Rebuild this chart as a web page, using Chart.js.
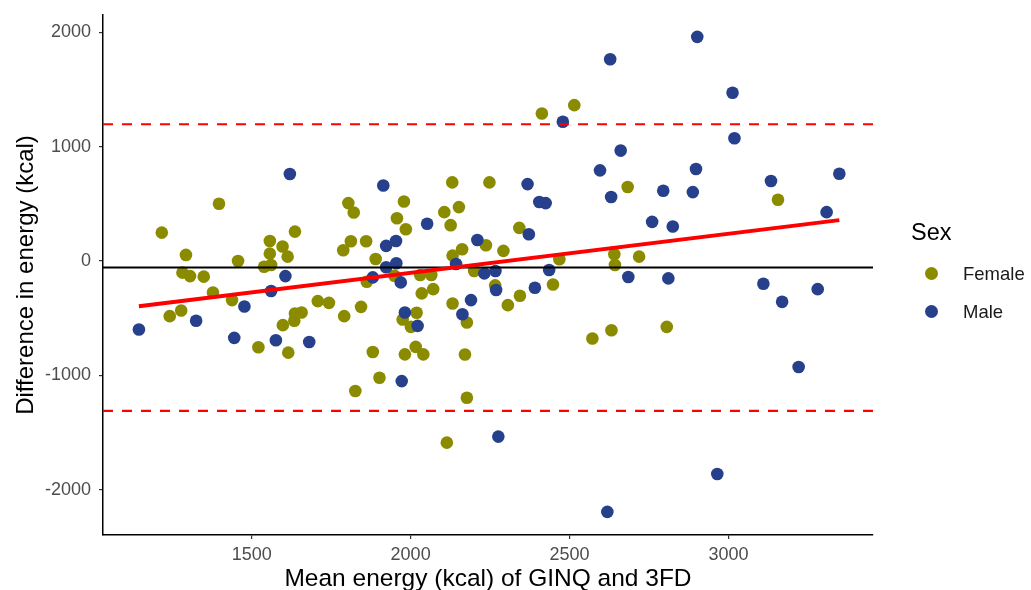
<!DOCTYPE html>
<html lang="en">
<head>
    <meta charset="utf-8">
    <title>Bland-Altman energy</title>
    <script src="https://cdn.jsdelivr.net/npm/chart.js@4.4.0/dist/chart.umd.min.js"></script>
    <style>
        body { margin: 0; background: #fff; font-family: "Liberation Sans", Arial, sans-serif; }
        #wrap { position: relative; width: 1031px; height: 590px; overflow: hidden; }
        #legend { position: absolute; left: 911px; top: 216px; color: #000; }
        #legend .title { font-size: 23.5px; line-height: 32px; }
        #legend .item { position: relative; height: 38px; font-size: 18.5px; color: #1a1a1a; }
        #legend .dot { position: absolute; left: 14px; width: 13px; height: 13px; border-radius: 50%; }
        #legend .lab { position: absolute; left: 52px; }
    </style>
</head>
<body>
<div id="wrap">
    <canvas id="myChart" width="1031" height="590"></canvas>
    <div id="legend">
        <div class="title">Sex</div>
        <div class="item" style="top:7px"><span class="dot" style="top:12px;background:#8B8B00"></span><span class="lab" style="top:8px">Female</span></div>
        <div class="item" style="top:7px"><span class="dot" style="top:12px;background:#27408B"></span><span class="lab" style="top:8px">Male</span></div>
    </div>
</div>
<script>
    // values
    const femaleX = [1397, 1217, 1636, 1293, 1457, 1557, 1557, 1597, 1613, 1539, 1561, 1282, 1306, 1349, 1378, 1438, 1636, 1278, 1242, 1634, 1598, 1521, 1615,
        1804, 1821, 1979, 1957, 1985, 1812, 1788, 1860, 1890, 1862, 1949, 2030, 2065, 2035, 2071, 1708, 1743, 1844, 1791, 1657, 2019, 1975, 2001, 1881, 1982, 2016, 2040, 1902, 1826,
        2131, 2248, 2106, 2152, 2126, 2342, 2237, 2292, 2162, 2132, 2468, 2200, 2266, 2448, 2344, 2306, 2132, 2177, 2171, 2177,
        2515, 2683, 2641, 2719, 2643, 2572, 2632, 2806, 3156, 2114, 2413];
    const femaleY = [500, 248, 257, 53, 0, 175, 64, 126, 38, -50, -35, -102, -132, -137, -275, -342, -459, -433, -482, -523, -561, -754, -801,
        506, 424, 520, 374, 278, 173, 94, 173, 18, -181, -129, -123, -123, -283, -246, -351, -366, -401, -482, -450, -453, -512, -576, -795, -816, -751, -816, -1021, -1137,
        687, 687, 427, 471, 313, 289, 137, 88, 103, 47, 15, -88, -213, -205, -304, -386, -371, -538, -818, -1196,
        1362, 646, 59, 38, -35, -678, -605, -576, 535, -1588, 1289];
    const maleX = [1620, 1606, 1561, 1477, 1325, 1145, 1445, 1576,
        1914, 2052, 1923, 1954, 1923, 1955, 1881, 1969, 1982, 2022, 1681, 1972,
        2368, 2405, 2425, 2372, 2210, 2143, 2232, 2267, 2436, 2269, 2391, 2190, 2163,
        2902, 2628, 3013, 3019, 2661, 2596, 2898, 2631, 2795, 2888, 2760, 2825, 2685, 2811,
        3134, 3349, 3309, 3110, 3169, 3281, 3221,
        2276, 2965, 2619, 2479];
    const maleY = [760, -132, -263, -398, -523, -599, -672, -693,
        660, 325, 132, 175, -55, -20, -143, -187, -450, -567, -708, -1050,
        672, 515, 506, 234, 184, -26, -108, -88, -79, -254, -234, -342, -465,
        1959, 1763, 1471, 1073, 965, 792, 804, 559, 614, 602, 342, 301, -140, -152,
        699, 763, 427, -199, -357, -246, -927,
        -1535, -1862, -2193, 1217];

    // mean difference and limits of agreement
    const meanDiff = -58;
    const loaUpper = 1195;
    const loaLower = -1310;

    // fitted trend line end points
    const fitX = [1145, 3349];
    const fitY = [-395, 357];

    // axis ranges and ticks
    const xRange = [1032, 3455];
    const yRange = [-2395, 2150];
    const xTicks = [1500, 2000, 2500, 3000];
    const yTicks = [-2000, -1000, 0, 1000, 2000];

    const toPoints = (xs, ys) => xs.map((x, i) => ({ x: x, y: ys[i] }));
    const hline = v => xRange.map(x => ({ x: x, y: v }));

    const font = "'Liberation Sans', Arial, sans-serif";

    new Chart(document.getElementById('myChart'), {
        type: 'scatter',
        data: {
            datasets: [
                {
                    label: 'Female',
                    data: toPoints(femaleX, femaleY),
                    backgroundColor: '#8B8B00',
                    borderWidth: 0,
                    pointRadius: 6.3,
                    order: 4
                },
                {
                    label: 'Male',
                    data: toPoints(maleX, maleY),
                    backgroundColor: '#27408B',
                    borderWidth: 0,
                    pointRadius: 6.3,
                    order: 3
                },
                {
                    type: 'line',
                    data: hline(meanDiff),
                    borderColor: '#000',
                    borderWidth: 2,
                    pointRadius: 0,
                    order: 2
                },
                {
                    type: 'line',
                    data: hline(loaUpper),
                    borderColor: '#ff0000',
                    borderWidth: 2.2,
                    borderDash: [10, 9],
                    pointRadius: 0,
                    order: 2
                },
                {
                    type: 'line',
                    data: hline(loaLower),
                    borderColor: '#ff0000',
                    borderWidth: 2.2,
                    borderDash: [10, 9],
                    pointRadius: 0,
                    order: 2
                },
                {
                    type: 'line',
                    data: toPoints(fitX, fitY),
                    borderColor: '#ff0000',
                    borderWidth: 4,
                    pointRadius: 0,
                    order: 1
                }
            ]
        },
        options: {
            responsive: false,
            animation: false,
            layout: { padding: { top: 15, right: 158, left: 0, bottom: 0 } },
            plugins: {
                legend: { display: false },
                tooltip: { enabled: false }
            },
            scales: {
                x: {
                    type: 'linear',
                    min: xRange[0],
                    max: xRange[1],
                    afterBuildTicks: s => { s.ticks = xTicks.map(v => ({ value: v })); },
                    afterFit: s => { s.height = 55; s.paddingLeft = 0; s.paddingRight = 0; },
                    grid: { display: true, drawOnChartArea: false, drawTicks: true, tickLength: 4, color: '#333', lineWidth: 1.2 },
                    border: { display: true, color: '#000', width: 1.5 },
                    ticks: { color: '#4D4D4D', font: { family: font, size: 18 }, padding: 5, callback: v => String(v), maxRotation: 0 },
                    title: { display: true, text: 'Mean energy (kcal) of GINQ and 3FD', color: '#000', font: { family: font, size: 24.5, lineHeight: 1 }, padding: { top: 0, bottom: -1 } }
                },
                y: {
                    type: 'linear',
                    min: yRange[0],
                    max: yRange[1],
                    afterBuildTicks: s => { s.ticks = yTicks.map(v => ({ value: v })); },
                    afterFit: s => { s.width = 103; s.paddingTop = 0; s.paddingBottom = 0; },
                    grid: { display: true, drawOnChartArea: false, drawTicks: true, tickLength: 4, color: '#333', lineWidth: 1.2 },
                    border: { display: true, color: '#000', width: 1.5 },
                    ticks: { color: '#4D4D4D', font: { family: font, size: 18 }, padding: 8, callback: v => String(v) },
                    title: { display: true, text: 'Difference in energy (kcal)', color: '#000', font: { family: font, size: 24, lineHeight: 1 }, padding: { top: 14, bottom: 0 } }
                }
            }
        }
    });
</script>
</body>
</html>
